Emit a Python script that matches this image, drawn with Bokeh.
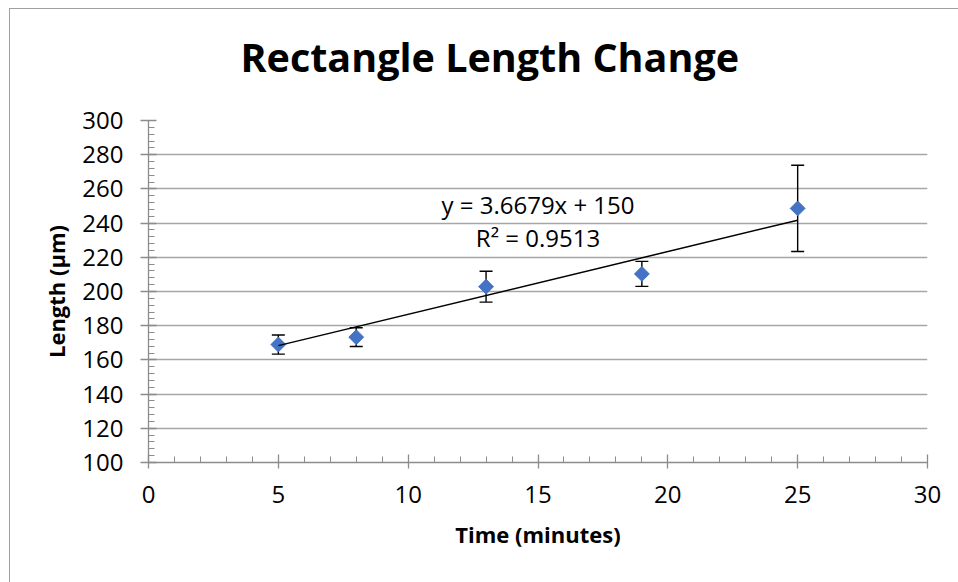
import numpy as np
from bokeh.plotting import figure
from bokeh.models import (ColumnDataSource, Whisker, TeeHead, Label, Range1d,
                          FixedTicker, Title)
from bokeh.embed import file_html
from bokeh.resources import INLINE

# Measurements: mean rectangle length at each time point, with error
time_min = [5, 8, 13, 19, 25]
length_um = [169.0, 173.3, 202.8, 210.3, 248.6]
length_err = [5.6, 5.5, 9.0, 7.3, 25.2]

# Linear trendline reported for the series
slope = 3.6679
intercept = 150
r_squared = 0.9513

x_ticks = [0, 5, 10, 15, 20, 25, 30]
y_ticks = [100, 120, 140, 160, 180, 200, 220, 240, 260, 280, 300]

FONT = "Open Sans"
GRID = "#a6a6a6"
AXIS = "#8c8c8c"
BLUE = "#4472C4"

p = figure(width=948, height=573, frame_width=779, frame_height=342,
           min_border_left=138, min_border_top=111, min_border_right=31,
           min_border_bottom=120,
           x_range=Range1d(0, 30), y_range=Range1d(100, 300),
           output_backend="svg", toolbar_location=None)
p.styles = {"margin-left": "9px", "margin-top": "8px",
            "border-left": "1px solid #a0a0a0",
            "border-top": "1px solid #a0a0a0"}
p.outline_line_color = None
p.background_fill_color = "white"
p.border_fill_color = "white"

# Blank spacer panel between the frame and the title
p.add_layout(Title(text=" ", text_font_size="15px", standoff=0), "above")

# Chart title
p.title.text = "Rectangle Length Change"
p.title.text_font = FONT
p.title.text_font_style = "bold"
p.title.text_font_size = "39.5px"
p.title.text_color = "black"
p.title.align = "left"
p.title.offset = 92
p.title.standoff = 36

# Axes
p.xaxis.ticker = FixedTicker(ticks=x_ticks, minor_ticks=list(range(0, 31)))
p.yaxis.ticker = FixedTicker(ticks=y_ticks, minor_ticks=list(range(100, 301, 4)))
for ax in (p.xaxis[0], p.yaxis[0]):
    ax.axis_line_color = AXIS
    ax.axis_line_width = 1.3
    ax.major_tick_line_color = AXIS
    ax.minor_tick_line_color = AXIS
    ax.major_tick_line_width = 1.3
    ax.minor_tick_line_width = 1
    ax.major_label_text_font = FONT
    ax.major_label_text_font_size = "24px"
    ax.major_label_text_color = "black"
    ax.axis_label_text_font = FONT
    ax.axis_label_text_font_style = "bold"
    ax.axis_label_text_font_size = "22px"
    ax.axis_label_text_color = "black"

p.xaxis.major_tick_in = 8
p.xaxis.major_tick_out = 6
p.xaxis.minor_tick_in = 6
p.xaxis.minor_tick_out = 0
p.xaxis.major_label_standoff = 17
p.xaxis.axis_label = "Time (minutes)"
p.xaxis.axis_label_standoff = 13

p.yaxis.major_tick_in = 8
p.yaxis.major_tick_out = 8
p.yaxis.minor_tick_in = 6
p.yaxis.minor_tick_out = 0
p.yaxis.major_label_standoff = 17
p.yaxis.axis_label = "Length (µm)"
p.yaxis.axis_label_standoff = 8

p.xgrid.grid_line_color = None
p.ygrid.grid_line_color = GRID
p.ygrid.grid_line_width = 1.3
p.ygrid.ticker = FixedTicker(ticks=y_ticks)

# Error bars
src = ColumnDataSource(dict(
    x=time_min, y=length_um,
    upper=[v + e for v, e in zip(length_um, length_err)],
    lower=[v - e for v, e in zip(length_um, length_err)],
))
whisk = Whisker(source=src, base="x", upper="upper", lower="lower",
                dimension="height", line_color="black", line_width=1.4,
                upper_head=TeeHead(size=13, line_color="black", line_width=1.4),
                lower_head=TeeHead(size=13, line_color="black", line_width=1.4),
                level="underlay")
p.add_layout(whisk)

# Data points (diamonds)
p.scatter("x", "y", source=src, marker="square", angle=np.pi / 4, size=10.5,
          fill_color=BLUE, line_color=BLUE)

# Trendline across the measured time span
tx = np.array([min(time_min), max(time_min)], dtype=float)
p.line(tx, slope * tx + intercept, line_color="black", line_width=1.5)

# Trendline equation and R²
p.add_layout(Label(x=15.0, y=251.0, text=f"y = {slope}x + {intercept}",
                   text_font=FONT, text_font_size="24px", text_align="center",
                   text_baseline="alphabetic", text_color="black"))
p.add_layout(Label(x=15.0, y=231.5, text=f"R² = {r_squared}",
                   text_font=FONT, text_font_size="24px", text_align="center",
                   text_baseline="alphabetic", text_color="black"))

open("out.html", "w").write(file_html(p, INLINE))
